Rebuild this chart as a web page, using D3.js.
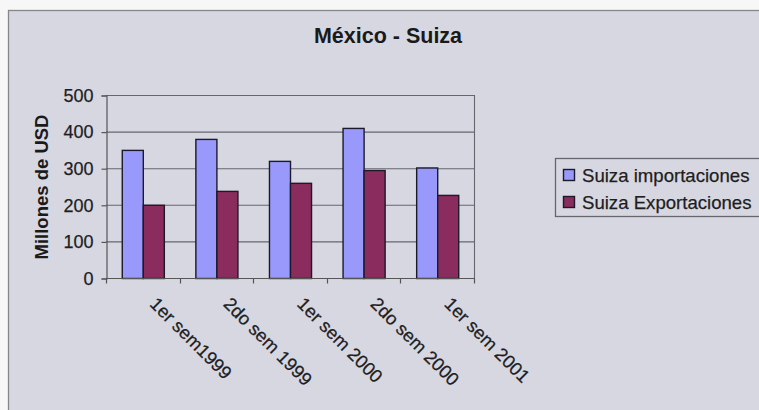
<!DOCTYPE html>
<html>
<head>
<meta charset="utf-8">
<script src="https://cdn.jsdelivr.net/npm/d3@7"></script>
<style>
  html, body { margin: 0; padding: 0; background: #f7f7f7; }
  svg { display: block; font-family: Arial, "Liberation Sans", sans-serif; }
</style>
</head>
<body>
<svg id="chart" width="759" height="410"></svg>
<script>
// Semesters and trade values (millions of USD)
const categories = ["1er sem1999", "2do sem 1999", "1er sem 2000", "2do sem 2000", "1er sem 2001"];
const importaciones = [350, 380, 320, 410, 302];
const exportaciones = [200, 238, 260, 295, 227];
const seriesNames = ["Suiza importaciones", "Suiza Exportaciones"];
const seriesColors = ["#9999fb", "#8a2c5e"];
const yTicks = [0, 100, 200, 300, 400, 500];

const svg = d3.select("#chart");

// chart area background with frame
svg.append("rect")
  .attr("x", 8.5).attr("y", 10.5)
  .attr("width", 760).attr("height", 410)
  .attr("fill", "#d7d7e2")
  .attr("stroke", "#85858a").attr("stroke-width", 1.3);

const plot = { left: 106, right: 474, top: 95, bottom: 278 };

const x = d3.scaleBand()
  .domain(categories)
  .range([plot.left, plot.right]);

const inner = d3.scaleBand()
  .domain([0, 1])
  .range([0, x.bandwidth()])
  .paddingInner(0)
  .paddingOuter(0.75);

const y = d3.scaleLinear().domain([0, 500]).range([plot.bottom, plot.top]);

// gridlines
svg.append("g")
  .selectAll("line")
  .data(yTicks.slice(1))
  .join("line")
  .attr("x1", plot.left).attr("x2", plot.right)
  .attr("y1", d => y(d) + 0.5).attr("y2", d => y(d) + 0.5)
  .attr("stroke", "#66666c").attr("stroke-width", 1.1);

// right edge of plot area
svg.append("line")
  .attr("x1", plot.right + 0.5).attr("x2", plot.right + 0.5)
  .attr("y1", plot.top).attr("y2", plot.bottom)
  .attr("stroke", "#66666c").attr("stroke-width", 1.1);

// bars
const data = categories.map((c, i) => ({ c, vals: [importaciones[i], exportaciones[i]] }));
const groups = svg.append("g").selectAll("g")
  .data(data)
  .join("g")
  .attr("transform", d => `translate(${x(d.c)},0)`);

groups.selectAll("rect")
  .data(d => d.vals.map((v, k) => ({ v, k })))
  .join("rect")
  .attr("x", d => inner(d.k) + 0.5)
  .attr("y", d => y(d.v) + 0.5)
  .attr("width", inner.bandwidth())
  .attr("height", d => plot.bottom - y(d.v))
  .attr("fill", d => seriesColors[d.k])
  .attr("stroke", "#1a1a2a").attr("stroke-width", 1.4);

// y axis
const yAxis = svg.append("g")
  .attr("transform", `translate(${plot.left + 0.5},0.5)`)
  .call(d3.axisLeft(y).tickValues(yTicks).tickSize(5).tickPadding(8).tickFormat(d3.format("d")));
yAxis.select(".domain").attr("stroke", "#555").attr("stroke-width", 1.2);
yAxis.selectAll(".tick line").attr("stroke", "#555").attr("stroke-width", 1.2);
yAxis.selectAll(".tick text")
  .attr("font-size", 18).attr("fill", "#1e1e1e")
  .attr("stroke", "#1e1e1e").attr("stroke-width", 0.25)
  .attr("font-family", "Arial, 'Liberation Sans', sans-serif");

// x axis with ticks at category boundaries
const xAxisG = svg.append("g").attr("transform", `translate(0,${plot.bottom + 0.5})`);
xAxisG.append("line")
  .attr("x1", plot.left).attr("x2", plot.right + 1)
  .attr("stroke", "#555").attr("stroke-width", 1.2);
const bounds = categories.map(c => x(c)).concat([x(categories[categories.length - 1]) + x.bandwidth()]);
xAxisG.selectAll(".bt")
  .data(bounds)
  .join("line")
  .attr("class", "bt")
  .attr("x1", d => Math.round(d) + 0.5).attr("x2", d => Math.round(d) + 0.5)
  .attr("y1", 0).attr("y2", 5)
  .attr("stroke", "#555").attr("stroke-width", 1.2);

// rotated category labels
svg.append("g").selectAll("text")
  .data(categories)
  .join("text")
  .attr("transform", d => `translate(${x(d) + x.bandwidth() / 2 + 6},${plot.bottom + 27}) rotate(45)`)
  .attr("font-size", 18.3).attr("fill", "#1e1e1e")
  .attr("stroke", "#1e1e1e").attr("stroke-width", 0.25)
  .text(d => d);

// title
svg.append("text")
  .attr("x", 388).attr("y", 43)
  .attr("text-anchor", "middle")
  .attr("font-size", 21.5).attr("font-weight", "bold").attr("fill", "#1a1a1a")
  .text("México - Suiza");

// y axis title
svg.append("text")
  .attr("transform", `translate(48,187) rotate(-90)`)
  .attr("text-anchor", "middle")
  .attr("font-size", 18.5).attr("font-weight", "bold").attr("fill", "#1a1a1a")
  .text("Millones de USD");

// legend (box runs past the right edge of the chart)
const legend = svg.append("g");
legend.append("rect")
  .attr("x", 555.5).attr("y", 158.5)
  .attr("width", 215).attr("height", 58)
  .attr("fill", "none").attr("stroke", "#66666c").attr("stroke-width", 1.3);
const items = legend.selectAll("g.item")
  .data(seriesNames)
  .join("g").attr("class", "item")
  .attr("transform", (d, i) => `translate(563,${175 + i * 27})`);
items.append("rect")
  .attr("x", 0.5).attr("y", -5.5)
  .attr("width", 11).attr("height", 11)
  .attr("fill", (d, i) => seriesColors[i])
  .attr("stroke", "#1a1a2a").attr("stroke-width", 1.4);
items.append("text")
  .attr("x", 19).attr("y", 6.5)
  .attr("font-size", 18.6).attr("fill", "#1e1e1e")
  .attr("stroke", "#1e1e1e").attr("stroke-width", 0.25)
  .text(d => d);
</script>
</body>
</html>
